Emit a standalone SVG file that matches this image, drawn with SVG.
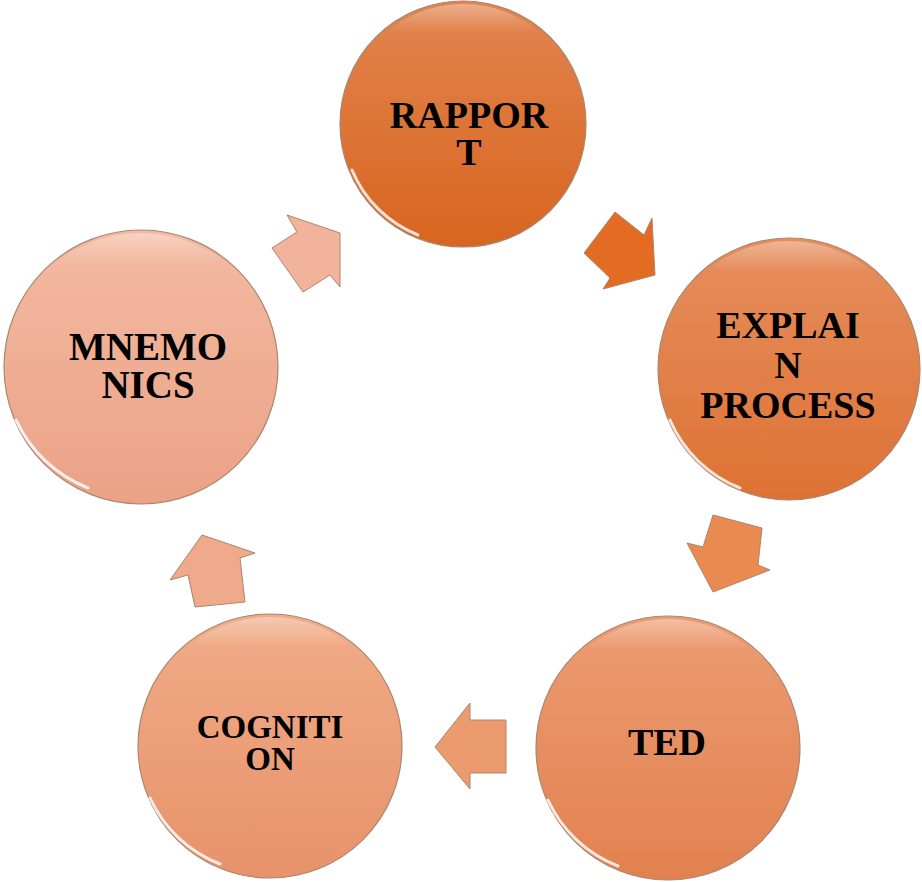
<svg xmlns="http://www.w3.org/2000/svg" width="922" height="882" viewBox="0 0 922 882">
<defs>
<linearGradient id="g1" x1="0" y1="0" x2="0" y2="1"><stop offset="0" stop-color="#E2844F"/><stop offset="1" stop-color="#D8651F"/></linearGradient>
<linearGradient id="g2" x1="0" y1="0" x2="0" y2="1"><stop offset="0" stop-color="#E68E5E"/><stop offset="1" stop-color="#DE7234"/></linearGradient>
<linearGradient id="g3" x1="0" y1="0" x2="0" y2="1"><stop offset="0" stop-color="#EC9C72"/><stop offset="1" stop-color="#E2814F"/></linearGradient>
<linearGradient id="g4" x1="0" y1="0" x2="0" y2="1"><stop offset="0" stop-color="#F0AC88"/><stop offset="1" stop-color="#E8926A"/></linearGradient>
<linearGradient id="g5" x1="0" y1="0" x2="0" y2="1"><stop offset="0" stop-color="#F3BAA2"/><stop offset="1" stop-color="#EBA286"/></linearGradient>
<linearGradient id="sheen" x1="0" y1="0" x2="0" y2="1"><stop offset="0" stop-color="#FFFFFF" stop-opacity="0.35"/><stop offset="0.12" stop-color="#FFFFFF" stop-opacity="0"/><stop offset="1" stop-color="#FFFFFF" stop-opacity="0"/></linearGradient>
<linearGradient id="ag" x1="0" y1="0" x2="1" y2="1"><stop offset="0" stop-color="#FFFFFF" stop-opacity="0.25"/><stop offset="1" stop-color="#000000" stop-opacity="0.05"/></linearGradient>
</defs>
<style>
.c{stroke:#A98670;stroke-width:1.2}
.hl{fill:none;stroke:#FFFFFF;stroke-width:3;stroke-opacity:0.8;stroke-linecap:round}
.sh{fill:url(#sheen)}
.t{font-family:"Liberation Serif","Times New Roman",serif;font-weight:bold;fill:#000;text-anchor:middle}
.a{stroke:#A98670;stroke-width:1;stroke-linejoin:round}
</style>
<g id="connectors">
<polygon class="a" fill="#F1B39B" points="287,215 297,232 272,248 303,292 330,275 340,287 340,233"/>
<polygon class="a" fill="#E36B22" points="615,212 584,253 610,278 603,289 655,275 652,218 644,235"/>
<polygon class="a" fill="#E98A50" points="713,515 762,528 758,565 770,570 713,592 687,543 703,547"/>
<polygon class="a" fill="#EC9B6F" points="435,747 470,703 470,720 506,720 506,773 470,773 470,789"/>
<polygon class="a" fill="#EFAA8B" points="202,535 255,553 240,558 245,602 195,607 188,575 170,580"/>
</g>
<g id="rapport">
<circle class="c" cx="463" cy="124" r="123" fill="url(#g1)"/>
<circle class="sh" cx="463" cy="124" r="120"/>
<path class="hl" d="M 352 170 A 119 119 0 0 0 418 235"/>
<text class="t" font-size="38" x="469" y="128">RAPPOR</text>
<text class="t" font-size="38" x="469" y="165">T</text>
</g>
<g id="explain">
<circle class="c" cx="789" cy="369" r="131" fill="url(#g2)"/>
<circle class="sh" cx="789" cy="369" r="128"/>
<path class="hl" d="M 670 420 A 127 127 0 0 0 740 488"/>
<text class="t" font-size="38" x="788" y="338">EXPLAI</text>
<text class="t" font-size="38" x="788" y="378">N</text>
<text class="t" font-size="38" x="788" y="418">PROCESS</text>
</g>
<g id="ted">
<circle class="c" cx="668" cy="748" r="132" fill="url(#g3)"/>
<circle class="sh" cx="668" cy="748" r="129"/>
<path class="hl" d="M 548 800 A 128 128 0 0 0 618 866"/>
<text class="t" font-size="38" x="667" y="755">TED</text>
</g>
<g id="cognition">
<circle class="c" cx="270" cy="746" r="132" fill="url(#g4)"/>
<circle class="sh" cx="270" cy="746" r="129"/>
<path class="hl" d="M 150 798 A 128 128 0 0 0 220 864"/>
<text class="t" font-size="33" x="270" y="738">COGNITI</text>
<text class="t" font-size="33" x="270" y="770">ON</text>
</g>
<g id="mnemonics">
<circle class="c" cx="141" cy="367" r="137" fill="url(#g5)"/>
<circle class="sh" cx="141" cy="367" r="134"/>
<path class="hl" d="M 16 420 A 133 133 0 0 0 88 488"/>
<text class="t" font-size="39" x="148" y="360">MNEMO</text>
<text class="t" font-size="39" x="148" y="398">NICS</text>
</g>
</svg>
